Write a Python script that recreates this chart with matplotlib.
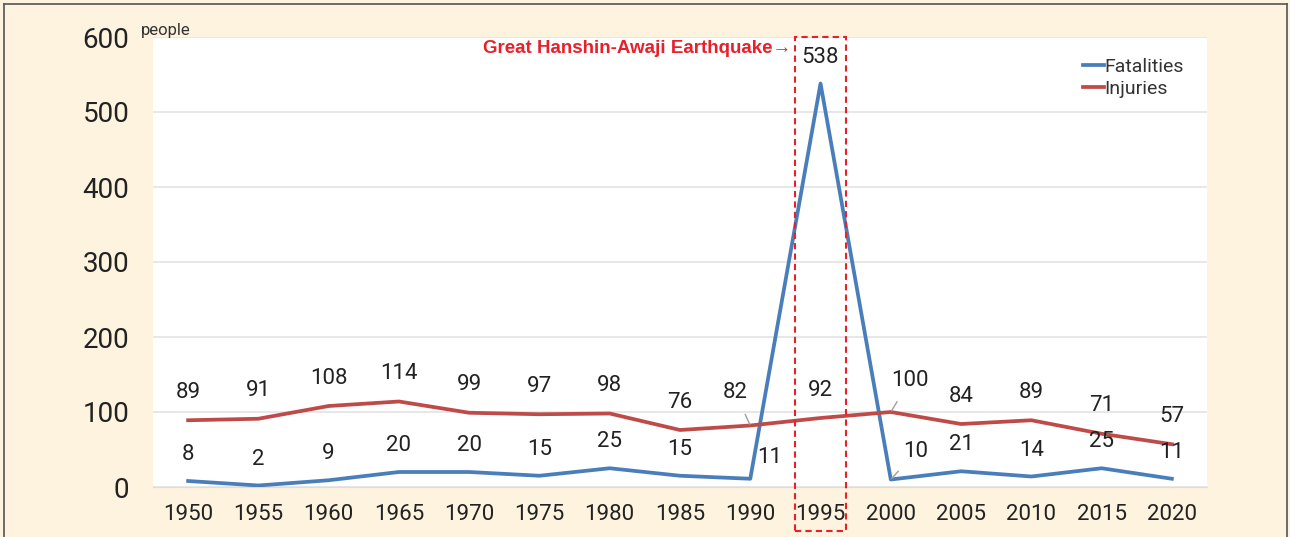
import matplotlib
matplotlib.use("Agg")
from matplotlib import pyplot as plt
from matplotlib.patches import Rectangle
from matplotlib.lines import Line2D

# data
years = ["1950", "1955", "1960", "1965", "1970", "1975", "1980", "1985",
         "1990", "1995", "2000", "2005", "2010", "2015", "2020"]
fatalities = [8, 2, 9, 20, 20, 15, 25, 15, 11, 538, 10, 21, 14, 25, 11]
injuries = [89, 91, 108, 114, 99, 97, 98, 76, 82, 92, 100, 84, 89, 71, 57]

BLUE = "#4A7EBB"
RED = "#BE4B48"
BG = "#FDF3DE"

plt.rcParams["font.family"] = ["Roboto", "DejaVu Sans"]

fig = plt.figure(figsize=(12.9, 5.37), dpi=100, facecolor=BG)
ax = fig.add_axes([153 / 1290, 50 / 537, 1054 / 1290, 450 / 537])
ax.set_facecolor("white")

x = list(range(len(years)))
ax.plot(x, fatalities, color=BLUE, lw=2.7, label="Fatalities", zorder=3)
ax.plot(x, injuries, color=RED, lw=2.7, label="Injuries", zorder=3)

ax.set_xlim(-0.5, len(years) - 0.5)
ax.set_ylim(0, 600)
ax.set_yticks(range(0, 601, 100))
ax.set_xticks(x)
ax.set_xticklabels(years)
ax.tick_params(axis="y", labelsize=20, length=0, pad=17, colors="#222222")
ax.tick_params(axis="x", labelsize=16, length=0, pad=12, colors="#222222")
ax.grid(axis="y", color="#E3E3E3", lw=1.2)
ax.set_axisbelow(True)
for s in ["left", "right", "top"]:
    ax.spines[s].set_visible(False)
ax.spines["bottom"].set_color("#E6DCC8")

# data labels (offset in points, special cases moved aside)
f_off = {8: (14, 15), 10: (18, 20)}
i_off = {8: (-11, 24), 10: (14, 23)}
for i, v in enumerate(fatalities):
    dx, dy = f_off.get(i, (0, 19))
    lead = dict(arrowstyle="-", color="#A0A0A0", lw=1.0, shrinkA=6, shrinkB=1) if i == 10 else None
    ax.annotate(str(v), (i, v), xytext=(dx, dy), textcoords="offset points",
                ha="center", va="center", fontsize=16, color="#222222",
                arrowprops=lead, zorder=4)
for i, v in enumerate(injuries):
    dx, dy = i_off.get(i, (0, 20))
    lead = dict(arrowstyle="-", color="#A0A0A0", lw=1.0, shrinkA=7, shrinkB=1) if i in (8, 10) else None
    ax.annotate(str(v), (i, v), xytext=(dx, dy), textcoords="offset points",
                ha="center", va="center", fontsize=16, color="#222222",
                arrowprops=lead, zorder=4)

# earthquake highlight box
ax.add_patch(Rectangle((9 - 0.36, -58), 0.72, 658, fill=False, ec="#E8202A",
                       ls=(0, (3, 2)), lw=1.5, clip_on=False, zorder=5))
ax.text(9 - 0.42, 585, "Great Hanshin-Awaji Earthquake\u2192", color="#E8202A",
        fontsize=13.5, fontweight="bold", ha="right", va="center",
        family=["Liberation Sans", "DejaVu Sans"])

fig.text(141 / 1290, 1 - 30 / 537, "people", fontsize=12, color="#333333",
         va="center", ha="left")

leg = ax.legend(loc="upper right", bbox_to_anchor=(1.0 - 15 / 1054, 1.0 - 13 / 450),
                frameon=False, fontsize=14, handlelength=1.05, handletextpad=0.05,
                labelspacing=0.2, labelcolor="#333333", borderaxespad=0)

# outer border (left, top, right)
for xs, ys in [([4, 4], [0, 533]), ([4, 1287], [533, 533]), ([1287, 1287], [0, 533])]:
    fig.add_artist(Line2D([a / 1290 for a in xs], [b / 537 for b in ys],
                          color="#555555", lw=1.2))

fig.savefig("out.png", dpi=100, facecolor=BG)
